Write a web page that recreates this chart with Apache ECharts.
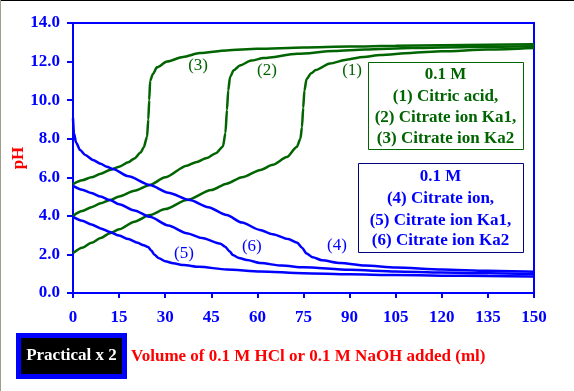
<!DOCTYPE html>
<html>
<head>
<meta charset="utf-8">
<script src="https://cdn.jsdelivr.net/npm/echarts@6/dist/echarts.min.js"></script>
<style>html,body{margin:0;padding:0;background:#fff;}#c{width:574px;height:391px;}</style>
</head>
<body>
<div id="c"></div>
<script>
// ---- data (ml, pH) ----
const xTicks = [0, 15, 30, 45, 60, 75, 90, 105, 120, 135, 150];
const yTicks = [0, 2, 4, 6, 8, 10, 12, 14];

// (1) Citric acid + NaOH
const citricAcid = [[0,2.07],[3,2.35],[6,2.6],[9,2.85],[12,3.1],[15,3.3],[20,3.7],[25,4.04],[30,4.35],[37,4.82],[45,5.34],[50,5.67],[55,6.0],[61,6.38],[65,6.65],[69.6,7.05],[72.8,7.57],[74,8.0],[74.5,8.6],[74.9,9.6],[75.3,10.5],[76,11.1],[77.5,11.4],[79,11.56],[83.6,11.9],[89,12.1],[94.4,12.24],[100,12.34],[110,12.45],[120,12.53],[135,12.62],[150,12.7]];
// (2) Citrate ion Ka1 + NaOH
const citrateKa1Up = [[0,4.0],[3,4.25],[6,4.45],[9,4.65],[12,4.82],[15,5.0],[20,5.3],[25,5.6],[30,6.0],[37,6.6],[40,6.78],[43.6,7.0],[46.5,7.25],[48.8,7.6],[49.6,8.3],[50.1,9.5],[50.5,10.5],[51.1,11.2],[52.3,11.55],[54.3,11.8],[58,12.05],[62,12.18],[73,12.4],[85,12.55],[95,12.62],[110,12.7],[130,12.76],[150,12.8]];
// (3) Citrate ion Ka2 + NaOH
const citrateKa2Up = [[0,5.65],[3,5.85],[6,6.0],[9,6.18],[12,6.38],[15,6.55],[18,6.78],[20,6.98],[22,7.28],[23,7.55],[24.1,8.1],[24.5,9.0],[24.8,10.0],[25.1,11.0],[26,11.35],[27.3,11.7],[30.6,12.0],[35.8,12.24],[41.3,12.44],[50,12.58],[60,12.66],[75,12.73],[90,12.78],[105,12.82],[120,12.85],[135,12.87],[150,12.9]];
// (4) Citrate ion + HCl
const citrateDown = [[0,9.07],[0.3,8.3],[1,7.8],[2.3,7.41],[4,7.15],[6.5,6.9],[9,6.7],[11,6.55],[13,6.43],[18,6.05],[25,5.6],[31,5.2],[38,4.82],[44,4.45],[50,4.04],[55,3.65],[60.8,3.27],[65,3.05],[70,2.8],[73,2.6],[74.5,2.35],[76,2.05],[78,1.85],[81,1.7],[87,1.55],[95,1.42],[105,1.32],[120,1.22],[135,1.15],[150,1.1]];
// (5) Citrate ion Ka1 + HCl
const citrateKa1Down = [[0,3.95],[3,3.75],[6,3.55],[9,3.35],[12,3.16],[15,2.98],[18,2.8],[21,2.6],[23,2.48],[24.4,2.39],[25.5,2.2],[26.5,1.98],[28,1.8],[30,1.65],[32.6,1.54],[36,1.45],[41,1.36],[50,1.22],[61,1.12],[75,1.03],[90,0.97],[105,0.93],[120,0.9],[135,0.88],[150,0.86]];
// (6) Citrate ion Ka2 + HCl
const citrateKa2Down = [[0,5.55],[3,5.35],[6,5.18],[9,5.0],[12,4.82],[15,4.6],[20,4.28],[25,3.95],[31,3.5],[37,3.1],[42,2.85],[48,2.55],[49.5,2.4],[51,2.15],[52,1.97],[54,1.82],[56.6,1.71],[61,1.55],[68,1.42],[75,1.33],[90,1.2],[105,1.12],[120,1.06],[135,1.02],[150,0.98]];

const curveNames = ['(1)', '(2)', '(3)', '(4)', '(5)', '(6)'];
const curveLabelAt = [[90.8,11.51],[63.1,11.51],[40.7,11.77],[85.9,2.44],[36.1,2.07],[58.2,2.39]];
const greenLegend = ['0.1 M', '(1) Citric acid,', '(2) Citrate ion Ka1,', '(3) Citrate ion Ka2'];
const blueLegend = ['0.1 M', '(4) Citrate ion,', '(5) Citrate ion Ka1,', '(6) Citrate ion Ka2'];
const xTitle = 'Volume of 0.1 M HCl or 0.1 M NaOH added (ml)';
const yTitle = 'pH';
const buttonText = 'Practical x 2';

// ---- styles ----
const GREEN = '#006400', BLUE = '#0000ff', RED = '#ff0000';
const FONT = '"Liberation Serif", "DejaVu Serif", serif';
const allData = [citricAcid, citrateKa1Up, citrateKa2Up, citrateDown, citrateKa1Down, citrateKa2Down];
const colors = [GREEN, GREEN, GREEN, BLUE, BLUE, BLUE];

const series = allData.map((d, i) => ({
  type: 'line', data: d, showSymbol: false, smooth: 0.25, smoothMonotone: 'x',
  lineStyle: {color: colors[i], width: 2.5}, z: 3,
  markPoint: {
    symbol: 'circle', symbolSize: 0, silent: true,
    data: [{coord: curveLabelAt[i]}],
    label: {show: true, position: 'inside', formatter: curveNames[i], color: colors[i],
      fontFamily: FONT, fontSize: 17, fontWeight: 'normal'}
  }
}));

function legendBox(lines, x, y, w, h, cy, stroke, color) {
  const els = [{type: 'rect', shape: {x: x + 0.5, y: y + 0.5, width: w, height: h},
    style: {fill: '#fff', stroke: stroke, lineWidth: 1}, z: 10}];
  lines.forEach((t, k) => els.push({type: 'text', x: x + w / 2, y: cy[k], z: 11,
    style: {text: t, fill: color, font: 'bold 17px ' + FONT, textAlign: 'center', textVerticalAlign: 'middle'}}));
  return els;
}

const chart = echarts.init(document.getElementById('c'), null, {renderer: 'canvas'});
chart.setOption({
  animation: false,
  backgroundColor: '#fff',
  grid: {left: 73, right: 40, top: 23, bottom: 98, containLabel: false, outerBoundsMode: 'none',
    show: true, borderColor: BLUE, borderWidth: 2, backgroundColor: 'transparent'},
  xAxis: {
    type: 'value', min: 0, max: 150, interval: 15,
    axisLine: {lineStyle: {color: BLUE, width: 2}},
    axisTick: {length: 5, lineStyle: {color: BLUE, width: 2}},
    splitLine: {show: false},
    axisLabel: {color: BLUE, fontFamily: FONT, fontSize: 17, fontWeight: 'bold', margin: 16,
      formatter: v => xTicks.includes(v) ? String(v) : ''}
  },
  yAxis: {
    type: 'value', min: 0, max: 14, interval: 2,
    axisLine: {show: true, lineStyle: {color: BLUE, width: 2}},
    axisTick: {show: true, length: 6, lineStyle: {color: BLUE, width: 2}},
    splitLine: {show: false},
    axisLabel: {color: BLUE, fontFamily: FONT, fontSize: 17, fontWeight: 'bold', margin: 13,
      formatter: v => yTicks.includes(v) ? v.toFixed(1) : ''}
  },
  series: series,
  graphic: [
    {type: 'line', shape: {x1: 0, y1: 0.5, x2: 574, y2: 0.5}, style: {stroke: '#000', lineWidth: 1}},
    {type: 'line', shape: {x1: 0.5, y1: 0, x2: 0.5, y2: 391}, style: {stroke: '#a0a088', lineWidth: 1}},
    {type: 'text', x: 19, y: 158, rotation: Math.PI / 2, z: 11,
      style: {text: yTitle, fill: RED, font: 'bold 17px ' + FONT, textAlign: 'center', textVerticalAlign: 'middle'}},
    ...legendBox(greenLegend, 368, 62, 155, 87, [75, 97, 118, 139], GREEN, GREEN),
    ...legendBox(blueLegend, 358, 163, 165, 89, [177, 199, 221, 241], '#000080', BLUE),
    {type: 'rect', shape: {x: 18.5, y: 335.5, width: 106, height: 41},
      style: {fill: '#000', stroke: BLUE, lineWidth: 5}, z: 10},
    {type: 'text', x: 71.5, y: 356, z: 11,
      style: {text: buttonText, fill: '#fff', font: 'bold 17px ' + FONT, textAlign: 'center', textVerticalAlign: 'middle'}},
    {type: 'text', x: 131, y: 357, z: 11,
      style: {text: xTitle, fill: RED, font: 'bold 17px ' + FONT, textAlign: 'left', textVerticalAlign: 'middle'}}
  ]
});
</script>
</body>
</html>
